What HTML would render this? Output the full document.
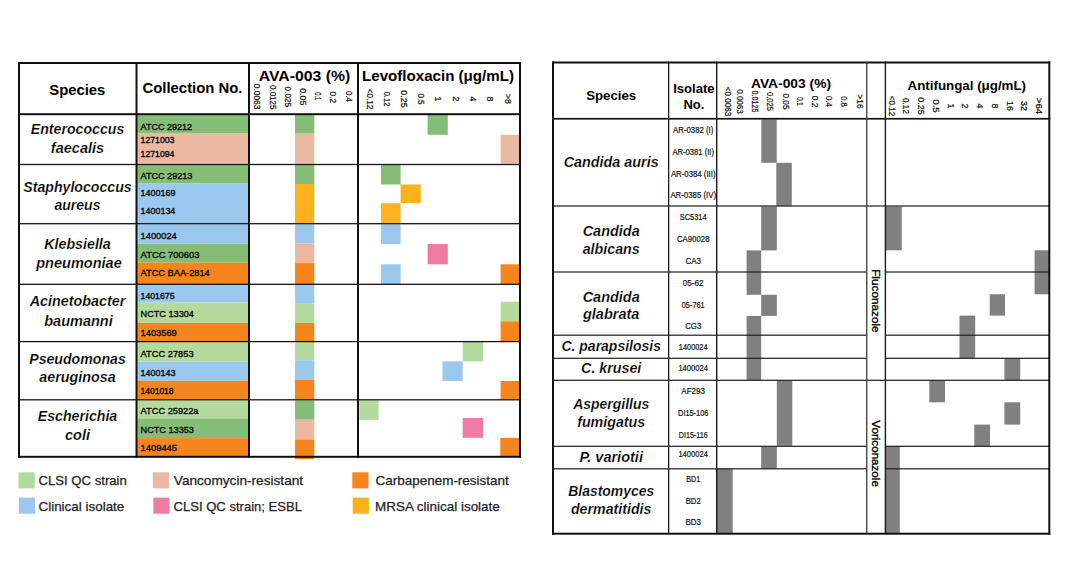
<!DOCTYPE html>
<html><head><meta charset="utf-8"><style>
html,body{margin:0;padding:0;background:#fff;width:1068px;height:580px;overflow:hidden}
svg{display:block;font-family:"Liberation Sans",sans-serif}
</style></head><body>
<svg width="1068" height="580" viewBox="0 0 1068 580">
<rect width="1068" height="580" fill="#fff"/>
<rect x="137" y="114" width="111" height="19.6" fill="#85bd76"/>
<rect x="137" y="133.6" width="111" height="30.2" fill="#ebb9a2"/>
<rect x="137" y="165" width="111" height="18.5" fill="#85bd76"/>
<rect x="137" y="183.5" width="111" height="39.7" fill="#9bc8ee"/>
<rect x="137" y="224.2" width="111" height="19.5" fill="#9bc8ee"/>
<rect x="137" y="243.7" width="111" height="19.0" fill="#85bd76"/>
<rect x="137" y="262.7" width="111" height="21.3" fill="#f6851d"/>
<rect x="137" y="284.6" width="111" height="18.0" fill="#9bc8ee"/>
<rect x="137" y="302.6" width="111" height="20.4" fill="#b4da9e"/>
<rect x="137" y="323" width="111" height="18.2" fill="#f6851d"/>
<rect x="137" y="342" width="111" height="19.7" fill="#b4da9e"/>
<rect x="137" y="361.7" width="111" height="19.1" fill="#9bc8ee"/>
<rect x="137" y="380.8" width="111" height="18.6" fill="#f6851d"/>
<rect x="137" y="400.3" width="111" height="18.1" fill="#b4da9e"/>
<rect x="137" y="418.4" width="111" height="19.7" fill="#85bd76"/>
<rect x="137" y="438.1" width="111" height="18.4" fill="#f6851d"/>
<text x="140.6" y="129.7" font-size="9.5" font-weight="400" textLength="51.4" lengthAdjust="spacingAndGlyphs" fill="#111" stroke="#111" stroke-width="0.4">ATCC 29212</text>
<text x="140.6" y="142.8" font-size="9.5" font-weight="400" textLength="33.8" lengthAdjust="spacingAndGlyphs" fill="#111" stroke="#111" stroke-width="0.4">1271003</text>
<text x="140.6" y="156.6" font-size="9.5" font-weight="400" textLength="33.8" lengthAdjust="spacingAndGlyphs" fill="#111" stroke="#111" stroke-width="0.4">1271094</text>
<text x="140.6" y="179.2" font-size="9.5" font-weight="400" textLength="51.699999999999996" lengthAdjust="spacingAndGlyphs" fill="#111" stroke="#111" stroke-width="0.4">ATCC 29213</text>
<text x="140.6" y="196.1" font-size="9.5" font-weight="400" textLength="35.0" lengthAdjust="spacingAndGlyphs" fill="#111" stroke="#111" stroke-width="0.4">1400169</text>
<text x="140.6" y="213.9" font-size="9.5" font-weight="400" textLength="34.699999999999996" lengthAdjust="spacingAndGlyphs" fill="#111" stroke="#111" stroke-width="0.4">1400134</text>
<text x="140.6" y="239.4" font-size="9.5" font-weight="400" textLength="36.199999999999996" lengthAdjust="spacingAndGlyphs" fill="#111" stroke="#111" stroke-width="0.4">1400024</text>
<text x="140.6" y="257.9" font-size="9.5" font-weight="400" textLength="58.8" lengthAdjust="spacingAndGlyphs" fill="#111" stroke="#111" stroke-width="0.4">ATCC 700603</text>
<text x="140.6" y="276.4" font-size="9.5" font-weight="400" textLength="69.1" lengthAdjust="spacingAndGlyphs" fill="#111" stroke="#111" stroke-width="0.4">ATCC BAA-2814</text>
<text x="140.6" y="298.8" font-size="9.5" font-weight="400" textLength="33.9" lengthAdjust="spacingAndGlyphs" fill="#111" stroke="#111" stroke-width="0.4">1401675</text>
<text x="140.6" y="317.1" font-size="9.5" font-weight="400" textLength="53.3" lengthAdjust="spacingAndGlyphs" fill="#111" stroke="#111" stroke-width="0.4">NCTC 13304</text>
<text x="140.6" y="335.5" font-size="9.5" font-weight="400" textLength="36.199999999999996" lengthAdjust="spacingAndGlyphs" fill="#111" stroke="#111" stroke-width="0.4">1403569</text>
<text x="140.6" y="357.2" font-size="9.5" font-weight="400" textLength="53.0" lengthAdjust="spacingAndGlyphs" fill="#111" stroke="#111" stroke-width="0.4">ATCC 27853</text>
<text x="140.6" y="375.7" font-size="9.5" font-weight="400" textLength="35.0" lengthAdjust="spacingAndGlyphs" fill="#111" stroke="#111" stroke-width="0.4">1400143</text>
<text x="140.6" y="393.7" font-size="9.5" font-weight="400" textLength="32.9" lengthAdjust="spacingAndGlyphs" fill="#111" stroke="#111" stroke-width="0.4">1401018</text>
<text x="140.6" y="414.2" font-size="9.5" font-weight="400" textLength="57.9" lengthAdjust="spacingAndGlyphs" fill="#111" stroke="#111" stroke-width="0.4">ATCC 25922a</text>
<text x="140.6" y="432.6" font-size="9.5" font-weight="400" textLength="53.3" lengthAdjust="spacingAndGlyphs" fill="#111" stroke="#111" stroke-width="0.4">NCTC 13353</text>
<text x="140.6" y="450.6" font-size="9.5" font-weight="400" textLength="36.4" lengthAdjust="spacingAndGlyphs" fill="#111" stroke="#111" stroke-width="0.4">1409445</text>
<rect x="295" y="114.5" width="19.3" height="19.2" fill="#85bd76"/>
<rect x="295" y="133.7" width="19.3" height="30.1" fill="#ebb9a2"/>
<rect x="295" y="165" width="19.3" height="19" fill="#85bd76"/>
<rect x="295" y="184" width="19.3" height="39" fill="#fcb21e"/>
<rect x="295" y="224.2" width="19.3" height="19.1" fill="#9bc8ee"/>
<rect x="295" y="243.3" width="19.3" height="19.8" fill="#ebb9a2"/>
<rect x="295" y="263.1" width="19.3" height="20.9" fill="#f6851d"/>
<rect x="295" y="284.6" width="19.3" height="19.0" fill="#9bc8ee"/>
<rect x="295" y="303.6" width="19.3" height="19.4" fill="#b4da9e"/>
<rect x="295" y="323" width="19.3" height="18.2" fill="#f6851d"/>
<rect x="295" y="342" width="19.3" height="18.4" fill="#b4da9e"/>
<rect x="295" y="360.4" width="19.3" height="19.2" fill="#9bc8ee"/>
<rect x="295" y="379.6" width="19.3" height="19.8" fill="#f6851d"/>
<rect x="295" y="400.3" width="19.3" height="19.4" fill="#85bd76"/>
<rect x="295" y="419.7" width="19.3" height="19.8" fill="#ebb9a2"/>
<rect x="295" y="439.5" width="19.3" height="19.5" fill="#f6851d"/>
<rect x="427.6" y="114.5" width="20.2" height="20.3" fill="#85bd76"/>
<rect x="500.6" y="134.8" width="19.4" height="29.0" fill="#ebb9a2"/>
<rect x="381" y="165" width="19.6" height="19.5" fill="#85bd76"/>
<rect x="400.6" y="184.5" width="20.2" height="18.7" fill="#fcb21e"/>
<rect x="381" y="203.2" width="19.6" height="20.0" fill="#fcb21e"/>
<rect x="381" y="224.2" width="19.6" height="19.8" fill="#9bc8ee"/>
<rect x="427.6" y="244" width="20.2" height="20.3" fill="#ee7ba4"/>
<rect x="381" y="264.3" width="19.6" height="19.7" fill="#9bc8ee"/>
<rect x="500.6" y="264.3" width="19.4" height="19.7" fill="#f6851d"/>
<rect x="500.6" y="301.7" width="19.4" height="19.6" fill="#b4da9e"/>
<rect x="500.6" y="321.3" width="19.4" height="19.9" fill="#f6851d"/>
<rect x="462.7" y="342" width="20.3" height="19.4" fill="#b4da9e"/>
<rect x="442.5" y="361.4" width="20.2" height="19.6" fill="#9bc8ee"/>
<rect x="500.6" y="381" width="19.4" height="18.4" fill="#f6851d"/>
<rect x="359.3" y="400.3" width="19.3" height="19.5" fill="#b4da9e"/>
<rect x="462.7" y="418" width="20.3" height="19.8" fill="#ee7ba4"/>
<rect x="500.3" y="437.9" width="19.7" height="18.6" fill="#f6851d"/>
<rect x="18" y="163.85" width="503" height="1.3" fill="#161616"/>
<rect x="18" y="223.04999999999998" width="503" height="1.3" fill="#161616"/>
<rect x="18" y="283.65000000000003" width="503" height="1.3" fill="#161616"/>
<rect x="18" y="340.95000000000005" width="503" height="1.3" fill="#161616"/>
<rect x="18" y="399.15000000000003" width="503" height="1.3" fill="#161616"/>
<rect x="18" y="62" width="503" height="2" fill="#111"/>
<rect x="18" y="113.2" width="503" height="2.0" fill="#111"/>
<rect x="18" y="455.8" width="503" height="2.0" fill="#111"/>
<rect x="18" y="62" width="2" height="395.8" fill="#111"/>
<rect x="135.5" y="62" width="2.0" height="395.8" fill="#111"/>
<rect x="248" y="62" width="2" height="395.8" fill="#111"/>
<rect x="357" y="62" width="2" height="395.8" fill="#111"/>
<rect x="519" y="62" width="2" height="395.8" fill="#111"/>
<text x="77.3" y="95.2" font-size="14.7" font-weight="700" text-anchor="middle" textLength="56" lengthAdjust="spacingAndGlyphs">Species</text>
<text x="192.5" y="93.2" font-size="14.7" font-weight="700" text-anchor="middle" textLength="100" lengthAdjust="spacingAndGlyphs">Collection No.</text>
<text x="304.5" y="80.8" font-size="15" font-weight="700" text-anchor="middle" textLength="91.5" lengthAdjust="spacingAndGlyphs">AVA-003 (%)</text>
<text x="438" y="80.5" font-size="15" font-weight="700" text-anchor="middle" textLength="152" lengthAdjust="spacingAndGlyphs">Levofloxacin (μg/mL)</text>
<text x="257.4" y="96.6" font-size="8.8" font-weight="400" text-anchor="middle" textLength="25.6" lengthAdjust="spacingAndGlyphs" fill="#111" transform="rotate(90 257.4 96.6)" dominant-baseline="central" stroke="#111" stroke-width="0.22">0.0063</text>
<text x="272.5" y="97.2" font-size="8.8" font-weight="400" text-anchor="middle" textLength="24.5" lengthAdjust="spacingAndGlyphs" fill="#111" transform="rotate(90 272.5 97.2)" dominant-baseline="central" stroke="#111" stroke-width="0.22">0.0125</text>
<text x="287.7" y="96.8" font-size="8.8" font-weight="400" text-anchor="middle" textLength="20.400000000000002" lengthAdjust="spacingAndGlyphs" fill="#111" transform="rotate(90 287.7 96.8)" dominant-baseline="central" stroke="#111" stroke-width="0.22">0.025</text>
<text x="302.9" y="96.8" font-size="8.8" font-weight="400" text-anchor="middle" textLength="17.2" lengthAdjust="spacingAndGlyphs" fill="#111" transform="rotate(90 302.9 96.8)" dominant-baseline="central" stroke="#111" stroke-width="0.22">0.05</text>
<text x="317.5" y="96.3" font-size="8.8" font-weight="400" text-anchor="middle" textLength="8.200000000000001" lengthAdjust="spacingAndGlyphs" fill="#111" transform="rotate(90 317.5 96.3)" dominant-baseline="central" stroke="#111" stroke-width="0.22">0.1</text>
<text x="332.6" y="97.3" font-size="8.8" font-weight="400" text-anchor="middle" textLength="11.5" lengthAdjust="spacingAndGlyphs" fill="#111" transform="rotate(90 332.6 97.3)" dominant-baseline="central" stroke="#111" stroke-width="0.22">0.2</text>
<text x="349" y="96.5" font-size="8.8" font-weight="400" text-anchor="middle" textLength="10.9" lengthAdjust="spacingAndGlyphs" fill="#111" transform="rotate(90 349 96.5)" dominant-baseline="central" stroke="#111" stroke-width="0.22">0.4</text>
<text x="370" y="99" font-size="8.8" font-weight="400" text-anchor="middle" textLength="20.7" lengthAdjust="spacingAndGlyphs" fill="#111" transform="rotate(90 370 99)" dominant-baseline="central" stroke="#111" stroke-width="0.22">&lt;0.12</text>
<text x="387.3" y="99" font-size="8.8" font-weight="400" text-anchor="middle" textLength="14.700000000000001" lengthAdjust="spacingAndGlyphs" fill="#111" transform="rotate(90 387.3 99)" dominant-baseline="central" stroke="#111" stroke-width="0.22">0.12</text>
<text x="404" y="99" font-size="8.8" font-weight="400" text-anchor="middle" textLength="17.3" lengthAdjust="spacingAndGlyphs" fill="#111" transform="rotate(90 404 99)" dominant-baseline="central" stroke="#111" stroke-width="0.22">0.25</text>
<text x="421.4" y="99" font-size="8.8" font-weight="400" text-anchor="middle" textLength="11.200000000000001" lengthAdjust="spacingAndGlyphs" fill="#111" transform="rotate(90 421.4 99)" dominant-baseline="central" stroke="#111" stroke-width="0.22">0.5</text>
<text x="438.4" y="99" font-size="8.8" font-weight="400" text-anchor="middle" fill="#111" transform="rotate(90 438.4 99)" dominant-baseline="central" stroke="#111" stroke-width="0.22">1</text>
<text x="456" y="99" font-size="8.8" font-weight="400" text-anchor="middle" fill="#111" transform="rotate(90 456 99)" dominant-baseline="central" stroke="#111" stroke-width="0.22">2</text>
<text x="473.4" y="99" font-size="8.8" font-weight="400" text-anchor="middle" fill="#111" transform="rotate(90 473.4 99)" dominant-baseline="central" stroke="#111" stroke-width="0.22">4</text>
<text x="490.4" y="99" font-size="8.8" font-weight="400" text-anchor="middle" fill="#111" transform="rotate(90 490.4 99)" dominant-baseline="central" stroke="#111" stroke-width="0.22">8</text>
<text x="508" y="99" font-size="8.8" font-weight="400" text-anchor="middle" fill="#111" transform="rotate(90 508 99)" dominant-baseline="central" stroke="#111" stroke-width="0.22">&gt;8</text>
<text x="77.5" y="133.7" font-size="14.9" font-weight="700" font-style="italic" text-anchor="middle" textLength="93.5" lengthAdjust="spacingAndGlyphs" stroke="#fff" stroke-width="0.18" paint-order="fill">Enterococcus</text>
<text x="77.5" y="152.5" font-size="14.9" font-weight="700" font-style="italic" text-anchor="middle" textLength="53.3" lengthAdjust="spacingAndGlyphs" stroke="#fff" stroke-width="0.18" paint-order="fill">faecalis</text>
<text x="77.5" y="191.5" font-size="14.9" font-weight="700" font-style="italic" text-anchor="middle" textLength="108.5" lengthAdjust="spacingAndGlyphs" stroke="#fff" stroke-width="0.18" paint-order="fill">Staphylococcus</text>
<text x="77.5" y="209.6" font-size="14.9" font-weight="700" font-style="italic" text-anchor="middle" textLength="46.1" lengthAdjust="spacingAndGlyphs" stroke="#fff" stroke-width="0.18" paint-order="fill">aureus</text>
<text x="77.5" y="249" font-size="14.9" font-weight="700" font-style="italic" text-anchor="middle" textLength="66.5" lengthAdjust="spacingAndGlyphs" stroke="#fff" stroke-width="0.18" paint-order="fill">Klebsiella</text>
<text x="79.0" y="267.8" font-size="14.9" font-weight="700" font-style="italic" text-anchor="middle" textLength="85.5" lengthAdjust="spacingAndGlyphs" stroke="#fff" stroke-width="0.18" paint-order="fill">pneumoniae</text>
<text x="77.5" y="306.2" font-size="14.9" font-weight="700" font-style="italic" text-anchor="middle" textLength="95.5" lengthAdjust="spacingAndGlyphs" stroke="#fff" stroke-width="0.18" paint-order="fill">Acinetobacter</text>
<text x="78.5" y="325.6" font-size="14.9" font-weight="700" font-style="italic" text-anchor="middle" textLength="68.5" lengthAdjust="spacingAndGlyphs" stroke="#fff" stroke-width="0.18" paint-order="fill">baumanni</text>
<text x="77.5" y="364" font-size="14.9" font-weight="700" font-style="italic" text-anchor="middle" textLength="96.5" lengthAdjust="spacingAndGlyphs" stroke="#fff" stroke-width="0.18" paint-order="fill">Pseudomonas</text>
<text x="77.5" y="382.4" font-size="14.9" font-weight="700" font-style="italic" text-anchor="middle" textLength="76.5" lengthAdjust="spacingAndGlyphs" stroke="#fff" stroke-width="0.18" paint-order="fill">aeruginosa</text>
<text x="77.5" y="421.2" font-size="14.9" font-weight="700" font-style="italic" text-anchor="middle" textLength="79.5" lengthAdjust="spacingAndGlyphs" stroke="#fff" stroke-width="0.18" paint-order="fill">Escherichia</text>
<text x="77.5" y="440.2" font-size="14.9" font-weight="700" font-style="italic" text-anchor="middle" textLength="25.0" lengthAdjust="spacingAndGlyphs" stroke="#fff" stroke-width="0.18" paint-order="fill">coli</text>
<rect x="18.5" y="472.3" width="16.2" height="16.1" fill="#b4da9e"/>
<text x="38.5" y="485" font-size="13" font-weight="400" textLength="88.3" lengthAdjust="spacingAndGlyphs" fill="#1e1e1e" stroke="#1e1e1e" stroke-width="0.25">CLSI QC strain</text>
<rect x="18.8" y="497.6" width="16.2" height="16.1" fill="#9bc8ee"/>
<text x="38.5" y="511.2" font-size="13" font-weight="400" textLength="85.8" lengthAdjust="spacingAndGlyphs" fill="#1e1e1e" stroke="#1e1e1e" stroke-width="0.25">Clinical isolate</text>
<rect x="152.8" y="472.3" width="16.2" height="16.1" fill="#ebb9a2"/>
<text x="173.8" y="485" font-size="13" font-weight="400" textLength="129.3" lengthAdjust="spacingAndGlyphs" fill="#1e1e1e" stroke="#1e1e1e" stroke-width="0.25">Vancomycin-resistant</text>
<rect x="153.4" y="497.6" width="16.2" height="16.1" fill="#ee7ba4"/>
<text x="173.6" y="511.2" font-size="13" font-weight="400" textLength="128.3" lengthAdjust="spacingAndGlyphs" fill="#1e1e1e" stroke="#1e1e1e" stroke-width="0.25">CLSI QC strain; ESBL</text>
<rect x="352.3" y="472.3" width="16.2" height="16.1" fill="#f6851d"/>
<text x="375.5" y="485" font-size="13" font-weight="400" textLength="133.3" lengthAdjust="spacingAndGlyphs" fill="#1e1e1e" stroke="#1e1e1e" stroke-width="0.25">Carbapenem-resistant</text>
<rect x="352.7" y="497.6" width="16.2" height="16.1" fill="#fcb21e"/>
<text x="375" y="511.2" font-size="13" font-weight="400" textLength="124.8" lengthAdjust="spacingAndGlyphs" fill="#1e1e1e" stroke="#1e1e1e" stroke-width="0.25">MRSA clinical isolate</text>
<rect x="761.3" y="119.5" width="15.4" height="43.3" fill="#808080"/>
<rect x="776.3" y="162.8" width="15.5" height="43.0" fill="#808080"/>
<rect x="761.2" y="206.5" width="15.6" height="43.9" fill="#808080"/>
<rect x="746.6" y="250.4" width="14.6" height="44.4" fill="#808080"/>
<rect x="761.2" y="294.8" width="15.6" height="21.1" fill="#808080"/>
<rect x="746.6" y="315.9" width="14.6" height="64.1" fill="#808080"/>
<rect x="776.8" y="380.5" width="15.5" height="65.3" fill="#808080"/>
<rect x="761.2" y="446.5" width="15.6" height="22.3" fill="#808080"/>
<rect x="716.5" y="468.8" width="16.2" height="64.2" fill="#808080"/>
<rect x="885.4" y="206.5" width="16.4" height="43.8" fill="#808080"/>
<rect x="1034.6" y="250.3" width="14.4" height="44.0" fill="#808080"/>
<rect x="989.7" y="294.3" width="15.3" height="21.3" fill="#808080"/>
<rect x="959.5" y="315.6" width="15.7" height="42.4" fill="#808080"/>
<rect x="1004.4" y="358.3" width="15.8" height="21.7" fill="#808080"/>
<rect x="929.3" y="380.5" width="15.7" height="21.8" fill="#808080"/>
<rect x="1004.4" y="402.3" width="15.8" height="22.3" fill="#808080"/>
<rect x="974.3" y="424.6" width="15.7" height="21.6" fill="#808080"/>
<rect x="885.3" y="446.3" width="14.5" height="86.7" fill="#808080"/>
<rect x="552" y="205.4" width="498" height="1.2" fill="#1e1e1e"/>
<rect x="552" y="271.4" width="314.8" height="1.2" fill="#1e1e1e"/>
<rect x="885.3" y="271.4" width="164.7" height="1.2" fill="#1e1e1e"/>
<rect x="552" y="334.59999999999997" width="314.8" height="1.2" fill="#1e1e1e"/>
<rect x="885.3" y="334.59999999999997" width="164.7" height="1.2" fill="#1e1e1e"/>
<rect x="552" y="357.7" width="314.8" height="1.2" fill="#1e1e1e"/>
<rect x="885.3" y="357.7" width="164.7" height="1.2" fill="#1e1e1e"/>
<rect x="552" y="379.7" width="498" height="1.2" fill="#1e1e1e"/>
<rect x="552" y="445.7" width="314.8" height="1.2" fill="#1e1e1e"/>
<rect x="885.3" y="445.7" width="164.7" height="1.2" fill="#1e1e1e"/>
<rect x="552" y="468.2" width="314.8" height="1.2" fill="#1e1e1e"/>
<rect x="885.3" y="468.2" width="164.7" height="1.2" fill="#1e1e1e"/>
<rect x="552" y="61.5" width="498.3" height="2.0" fill="#111"/>
<rect x="552" y="117.9" width="498.3" height="1.7" fill="#111"/>
<rect x="552" y="532.7" width="498.3" height="2.0" fill="#111"/>
<rect x="552" y="61.5" width="2" height="473.2" fill="#111"/>
<rect x="1048.3" y="61.5" width="2.0" height="473.2" fill="#111"/>
<rect x="668" y="61.5" width="1.3" height="472.8" fill="#1a1a1a"/>
<rect x="716" y="61.5" width="1.4" height="472.8" fill="#1a1a1a"/>
<rect x="866.1" y="61.5" width="1.3" height="472.8" fill="#3a3a3a"/>
<rect x="884.7" y="61.5" width="1.4" height="472.8" fill="#1a1a1a"/>
<text x="611.2" y="100" font-size="13" font-weight="700" text-anchor="middle" textLength="50" lengthAdjust="spacingAndGlyphs">Species</text>
<text x="693.9" y="93.4" font-size="13" font-weight="700" text-anchor="middle" textLength="41.5" lengthAdjust="spacingAndGlyphs">Isolate</text>
<text x="693.9" y="109.3" font-size="13" font-weight="700" text-anchor="middle">No.</text>
<text x="791" y="87.9" font-size="13.3" font-weight="700" text-anchor="middle" textLength="80" lengthAdjust="spacingAndGlyphs">AVA-003 (%)</text>
<text x="966.8" y="90.2" font-size="13.3" font-weight="700" text-anchor="middle" textLength="118.5" lengthAdjust="spacingAndGlyphs">Antifungal (μg/mL)</text>
<text x="727.8" y="101.5" font-size="8.8" font-weight="400" text-anchor="middle" textLength="29.3" lengthAdjust="spacingAndGlyphs" fill="#111" transform="rotate(90 727.8 101.5)" dominant-baseline="central" stroke="#111" stroke-width="0.22">&lt;0.0063</text>
<text x="740.2" y="101.5" font-size="8.8" font-weight="400" text-anchor="middle" textLength="24.6" lengthAdjust="spacingAndGlyphs" fill="#111" transform="rotate(90 740.2 101.5)" dominant-baseline="central" stroke="#111" stroke-width="0.22">0.0063</text>
<text x="755.4" y="101.5" font-size="8.8" font-weight="400" text-anchor="middle" textLength="22.2" lengthAdjust="spacingAndGlyphs" fill="#111" transform="rotate(90 755.4 101.5)" dominant-baseline="central" stroke="#111" stroke-width="0.22">0.0125</text>
<text x="769.6" y="101.5" font-size="8.8" font-weight="400" text-anchor="middle" textLength="19.1" lengthAdjust="spacingAndGlyphs" fill="#111" transform="rotate(90 769.6 101.5)" dominant-baseline="central" stroke="#111" stroke-width="0.22">0.025</text>
<text x="785.6" y="101.5" font-size="8.8" font-weight="400" text-anchor="middle" textLength="15.9" lengthAdjust="spacingAndGlyphs" fill="#111" transform="rotate(90 785.6 101.5)" dominant-baseline="central" stroke="#111" stroke-width="0.22">0.05</text>
<text x="799.9" y="101.5" font-size="8.8" font-weight="400" text-anchor="middle" textLength="8.6" lengthAdjust="spacingAndGlyphs" fill="#111" transform="rotate(90 799.9 101.5)" dominant-baseline="central" stroke="#111" stroke-width="0.22">0.1</text>
<text x="815" y="101.5" font-size="8.8" font-weight="400" text-anchor="middle" textLength="11.5" lengthAdjust="spacingAndGlyphs" fill="#111" transform="rotate(90 815 101.5)" dominant-baseline="central" stroke="#111" stroke-width="0.22">0.2</text>
<text x="829.2" y="101.5" font-size="8.8" font-weight="400" text-anchor="middle" textLength="10.9" lengthAdjust="spacingAndGlyphs" fill="#111" transform="rotate(90 829.2 101.5)" dominant-baseline="central" stroke="#111" stroke-width="0.22">0.4</text>
<text x="844.3" y="101.5" font-size="8.8" font-weight="400" text-anchor="middle" textLength="10.600000000000001" lengthAdjust="spacingAndGlyphs" fill="#111" transform="rotate(90 844.3 101.5)" dominant-baseline="central" stroke="#111" stroke-width="0.22">0.8</text>
<text x="859.5" y="101.5" font-size="8.8" font-weight="400" text-anchor="middle" textLength="14.100000000000001" lengthAdjust="spacingAndGlyphs" fill="#111" transform="rotate(90 859.5 101.5)" dominant-baseline="central" stroke="#111" stroke-width="0.22">&gt;16</text>
<text x="891.8" y="106" font-size="8.8" font-weight="400" text-anchor="middle" textLength="20.5" lengthAdjust="spacingAndGlyphs" fill="#111" transform="rotate(90 891.8 106)" dominant-baseline="central" stroke="#111" stroke-width="0.22">&lt;0.12</text>
<text x="905.9" y="106" font-size="8.8" font-weight="400" text-anchor="middle" textLength="15.8" lengthAdjust="spacingAndGlyphs" fill="#111" transform="rotate(90 905.9 106)" dominant-baseline="central" stroke="#111" stroke-width="0.22">0.12</text>
<text x="920.9" y="106" font-size="8.8" font-weight="400" text-anchor="middle" textLength="17.7" lengthAdjust="spacingAndGlyphs" fill="#111" transform="rotate(90 920.9 106)" dominant-baseline="central" stroke="#111" stroke-width="0.22">0.25</text>
<text x="935.8" y="106" font-size="8.8" font-weight="400" text-anchor="middle" textLength="13.5" lengthAdjust="spacingAndGlyphs" fill="#111" transform="rotate(90 935.8 106)" dominant-baseline="central" stroke="#111" stroke-width="0.22">0.5</text>
<text x="950.8" y="106" font-size="8.8" font-weight="400" text-anchor="middle" fill="#111" transform="rotate(90 950.8 106)" dominant-baseline="central" stroke="#111" stroke-width="0.22">1</text>
<text x="964.9" y="106" font-size="8.8" font-weight="400" text-anchor="middle" fill="#111" transform="rotate(90 964.9 106)" dominant-baseline="central" stroke="#111" stroke-width="0.22">2</text>
<text x="979.9" y="106" font-size="8.8" font-weight="400" text-anchor="middle" fill="#111" transform="rotate(90 979.9 106)" dominant-baseline="central" stroke="#111" stroke-width="0.22">4</text>
<text x="994.5" y="106" font-size="8.8" font-weight="400" text-anchor="middle" fill="#111" transform="rotate(90 994.5 106)" dominant-baseline="central" stroke="#111" stroke-width="0.22">8</text>
<text x="1009.8" y="106" font-size="8.8" font-weight="400" text-anchor="middle" fill="#111" transform="rotate(90 1009.8 106)" dominant-baseline="central" stroke="#111" stroke-width="0.22">16</text>
<text x="1024.4" y="106" font-size="8.8" font-weight="400" text-anchor="middle" fill="#111" transform="rotate(90 1024.4 106)" dominant-baseline="central" stroke="#111" stroke-width="0.22">32</text>
<text x="1038.8" y="106" font-size="8.8" font-weight="400" text-anchor="middle" textLength="16.7" lengthAdjust="spacingAndGlyphs" fill="#111" transform="rotate(90 1038.8 106)" dominant-baseline="central" stroke="#111" stroke-width="0.22">&gt;64</text>
<text x="876" y="300.9" font-size="10.5" font-weight="400" text-anchor="middle" textLength="63.5" lengthAdjust="spacingAndGlyphs" transform="rotate(90 876 300.9)" dominant-baseline="central" stroke="#000" stroke-width="0.3">Fluconazole</text>
<text x="876" y="453.6" font-size="10.5" font-weight="400" text-anchor="middle" textLength="66.5" lengthAdjust="spacingAndGlyphs" transform="rotate(90 876 453.6)" dominant-baseline="central" stroke="#000" stroke-width="0.3">Voriconazole</text>
<text x="611.2" y="167" font-size="15" font-weight="700" font-style="italic" text-anchor="middle" textLength="95.0" lengthAdjust="spacingAndGlyphs" stroke="#fff" stroke-width="0.18" paint-order="fill">Candida auris</text>
<text x="611.2" y="235.8" font-size="15" font-weight="700" font-style="italic" text-anchor="middle" textLength="57.0" lengthAdjust="spacingAndGlyphs" stroke="#fff" stroke-width="0.18" paint-order="fill">Candida</text>
<text x="611.2" y="253.9" font-size="15" font-weight="700" font-style="italic" text-anchor="middle" textLength="57.0" lengthAdjust="spacingAndGlyphs" stroke="#fff" stroke-width="0.18" paint-order="fill">albicans</text>
<text x="611.2" y="302.4" font-size="15" font-weight="700" font-style="italic" text-anchor="middle" textLength="57.0" lengthAdjust="spacingAndGlyphs" stroke="#fff" stroke-width="0.18" paint-order="fill">Candida</text>
<text x="611.2" y="319.4" font-size="15" font-weight="700" font-style="italic" text-anchor="middle" textLength="56.5" lengthAdjust="spacingAndGlyphs" stroke="#fff" stroke-width="0.18" paint-order="fill">glabrata</text>
<text x="611.2" y="351.4" font-size="15" font-weight="700" font-style="italic" text-anchor="middle" textLength="99.5" lengthAdjust="spacingAndGlyphs" stroke="#fff" stroke-width="0.18" paint-order="fill">C. parapsilosis</text>
<text x="611.2" y="373" font-size="15" font-weight="700" font-style="italic" text-anchor="middle" textLength="60.2" lengthAdjust="spacingAndGlyphs" stroke="#fff" stroke-width="0.18" paint-order="fill">C. krusei</text>
<text x="611.2" y="409.3" font-size="15" font-weight="700" font-style="italic" text-anchor="middle" textLength="76.1" lengthAdjust="spacingAndGlyphs" stroke="#fff" stroke-width="0.18" paint-order="fill">Aspergillus</text>
<text x="611.2" y="427" font-size="15" font-weight="700" font-style="italic" text-anchor="middle" textLength="68.0" lengthAdjust="spacingAndGlyphs" stroke="#fff" stroke-width="0.18" paint-order="fill">fumigatus</text>
<text x="611.2" y="462.2" font-size="15" font-weight="700" font-style="italic" text-anchor="middle" textLength="63.5" lengthAdjust="spacingAndGlyphs" stroke="#fff" stroke-width="0.18" paint-order="fill">P. variotii</text>
<text x="611.2" y="496.2" font-size="15" font-weight="700" font-style="italic" text-anchor="middle" textLength="85.9" lengthAdjust="spacingAndGlyphs" stroke="#fff" stroke-width="0.18" paint-order="fill">Blastomyces</text>
<text x="611.2" y="513.6" font-size="15" font-weight="700" font-style="italic" text-anchor="middle" textLength="80.5" lengthAdjust="spacingAndGlyphs" stroke="#fff" stroke-width="0.18" paint-order="fill">dermatitidis</text>
<text x="693.2" y="132.5" font-size="8.4" font-weight="400" text-anchor="middle" textLength="40.300000000000004" lengthAdjust="spacingAndGlyphs" fill="#111" stroke="#111" stroke-width="0.2">AR-0382 (I)</text>
<text x="693.2" y="154.5" font-size="8.4" font-weight="400" text-anchor="middle" textLength="41.6" lengthAdjust="spacingAndGlyphs" fill="#111" stroke="#111" stroke-width="0.2">AR-0381 (II)</text>
<text x="693.2" y="176.5" font-size="8.4" font-weight="400" text-anchor="middle" textLength="44.6" lengthAdjust="spacingAndGlyphs" fill="#111" stroke="#111" stroke-width="0.2">AR-0384 (III)</text>
<text x="693.2" y="197.7" font-size="8.4" font-weight="400" text-anchor="middle" textLength="45.6" lengthAdjust="spacingAndGlyphs" fill="#111" stroke="#111" stroke-width="0.2">AR-0385 (IV)</text>
<text x="693.2" y="220.1" font-size="8.4" font-weight="400" text-anchor="middle" textLength="26.900000000000002" lengthAdjust="spacingAndGlyphs" fill="#111" stroke="#111" stroke-width="0.2">SC5314</text>
<text x="693.2" y="242.4" font-size="8.4" font-weight="400" text-anchor="middle" textLength="32.6" lengthAdjust="spacingAndGlyphs" fill="#111" stroke="#111" stroke-width="0.2">CA90028</text>
<text x="693.2" y="264.4" font-size="8.4" font-weight="400" text-anchor="middle" textLength="15.6" lengthAdjust="spacingAndGlyphs" fill="#111" stroke="#111" stroke-width="0.2">CA3</text>
<text x="693.2" y="285.5" font-size="8.4" font-weight="400" text-anchor="middle" textLength="20.8" lengthAdjust="spacingAndGlyphs" fill="#111" stroke="#111" stroke-width="0.2">05-62</text>
<text x="693.2" y="307.5" font-size="8.4" font-weight="400" text-anchor="middle" textLength="22.8" lengthAdjust="spacingAndGlyphs" fill="#111" stroke="#111" stroke-width="0.2">05-761</text>
<text x="693.2" y="329.4" font-size="8.4" font-weight="400" text-anchor="middle" textLength="16.1" lengthAdjust="spacingAndGlyphs" fill="#111" stroke="#111" stroke-width="0.2">CG3</text>
<text x="693.2" y="349.5" font-size="8.4" font-weight="400" text-anchor="middle" textLength="28.700000000000003" lengthAdjust="spacingAndGlyphs" fill="#111" stroke="#111" stroke-width="0.2">1400024</text>
<text x="693.2" y="371" font-size="8.4" font-weight="400" text-anchor="middle" textLength="29.6" lengthAdjust="spacingAndGlyphs" fill="#111" stroke="#111" stroke-width="0.2">1400024</text>
<text x="693.2" y="393.7" font-size="8.4" font-weight="400" text-anchor="middle" textLength="23.700000000000003" lengthAdjust="spacingAndGlyphs" fill="#111" stroke="#111" stroke-width="0.2">AF293</text>
<text x="693.2" y="415.9" font-size="8.4" font-weight="400" text-anchor="middle" textLength="30.200000000000003" lengthAdjust="spacingAndGlyphs" fill="#111" stroke="#111" stroke-width="0.2">DI15-106</text>
<text x="693.2" y="437.6" font-size="8.4" font-weight="400" text-anchor="middle" textLength="28.900000000000002" lengthAdjust="spacingAndGlyphs" fill="#111" stroke="#111" stroke-width="0.2">DI15-116</text>
<text x="693.2" y="457.2" font-size="8.4" font-weight="400" text-anchor="middle" textLength="29.6" lengthAdjust="spacingAndGlyphs" fill="#111" stroke="#111" stroke-width="0.2">1400024</text>
<text x="693.2" y="481.5" font-size="8.4" font-weight="400" text-anchor="middle" textLength="14.0" lengthAdjust="spacingAndGlyphs" fill="#111" stroke="#111" stroke-width="0.2">BD1</text>
<text x="693.2" y="503.6" font-size="8.4" font-weight="400" text-anchor="middle" textLength="15.1" lengthAdjust="spacingAndGlyphs" fill="#111" stroke="#111" stroke-width="0.2">BD2</text>
<text x="693.2" y="525.4" font-size="8.4" font-weight="400" text-anchor="middle" textLength="15.6" lengthAdjust="spacingAndGlyphs" fill="#111" stroke="#111" stroke-width="0.2">BD3</text>
</svg>
</body></html>
